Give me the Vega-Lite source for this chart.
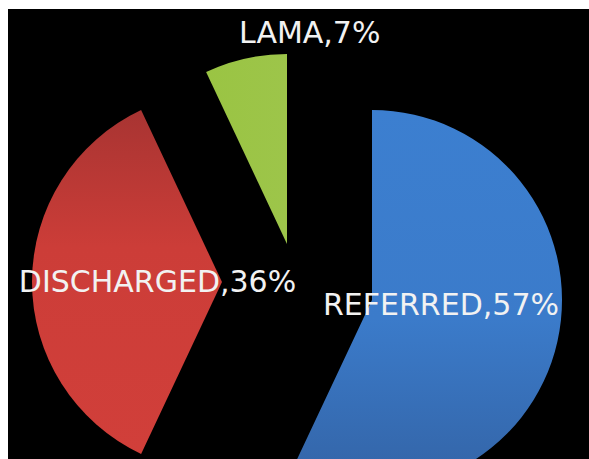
{
  "$schema": "https://vega.github.io/schema/vega-lite/v6.json",
  "width": 581,
  "height": 450,
  "autosize": {"type": "none"},
  "padding": {"left": 8, "top": 9, "right": 0, "bottom": 0},
  "background": "white",
  "config": {"view": {"fill": "black", "stroke": null}},
  "data": {
    "values": [
      {"status": "REFERRED", "pct": 57, "label": "REFERRED,57%"},
      {"status": "DISCHARGED", "pct": 36, "label": "DISCHARGED,36%"},
      {"status": "LAMA", "pct": 7, "label": "LAMA,7%"}
    ]
  },
  "transform": [
    {"stack": "pct", "groupby": [], "sort": [{"field": "pct", "order": "descending"}], "as": ["p0", "p1"]}
  ],
  "layer": [
    {
      "transform": [{"filter": "datum.status === 'REFERRED'"}],
      "mark": {"type": "rect", "fill": "black"},
      "encoding": {}
    },
    {
      "transform": [{"filter": "datum.status === 'REFERRED'"}],
      "mark": {
        "type": "arc", "outerRadius": 190, "xOffset": 73.5, "yOffset": 66,
        "color": {"gradient": "linear", "x1": 0, "y1": 0, "x2": 0, "y2": 1,
          "stops": [{"offset": 0, "color": "#3c7fd0"}, {"offset": 0.55, "color": "#3b7bca"}, {"offset": 1, "color": "#3363a5"}]}
      },
      "encoding": {
        "theta": {"field": "p0", "type": "quantitative", "scale": {"domain": [0, 100]}},
        "theta2": {"field": "p1"}
      }
    },
    {
      "transform": [{"filter": "datum.status === 'DISCHARGED'"}],
      "mark": {
        "type": "arc", "outerRadius": 190, "xOffset": -76.5, "yOffset": 48,
        "color": {"gradient": "linear", "x1": 0, "y1": 0, "x2": 0, "y2": 1,
          "stops": [{"offset": 0, "color": "#a83432"}, {"offset": 0.4, "color": "#cc3d38"}, {"offset": 1, "color": "#d13f3a"}]}
      },
      "encoding": {
        "theta": {"field": "p0", "type": "quantitative", "scale": {"domain": [0, 100]}},
        "theta2": {"field": "p1"}
      }
    },
    {
      "transform": [{"filter": "datum.status === 'LAMA'"}],
      "mark": {
        "type": "arc", "outerRadius": 190, "xOffset": -11.5, "yOffset": 10,
        "color": {"gradient": "linear", "x1": 0, "y1": 0, "x2": 1, "y2": 0,
          "stops": [{"offset": 0, "color": "#9ac443"}, {"offset": 1, "color": "#9dc54a"}]}
      },
      "encoding": {
        "theta": {"field": "p0", "type": "quantitative", "scale": {"domain": [0, 100]}},
        "theta2": {"field": "p1"}
      }
    },
    {
      "transform": [{"filter": "datum.status === 'REFERRED'"}],
      "mark": {"type": "text", "font": "DejaVu Sans", "fontSize": 30, "fill": "#f2f2f2", "align": "center", "baseline": "alphabetic", "xOffset": 142.5, "yOffset": 81},
      "encoding": {"text": {"field": "label"}}
    },
    {
      "transform": [{"filter": "datum.status === 'DISCHARGED'"}],
      "mark": {"type": "text", "font": "DejaVu Sans", "fontSize": 30, "fill": "#f2f2f2", "align": "center", "baseline": "alphabetic", "xOffset": -141, "yOffset": 58},
      "encoding": {"text": {"field": "label"}}
    },
    {
      "transform": [{"filter": "datum.status === 'LAMA'"}],
      "mark": {"type": "text", "font": "DejaVu Sans", "fontSize": 30, "fill": "#f2f2f2", "align": "left", "baseline": "alphabetic", "xOffset": -59.5, "yOffset": -191},
      "encoding": {"text": {"field": "label"}}
    }
  ]
}
